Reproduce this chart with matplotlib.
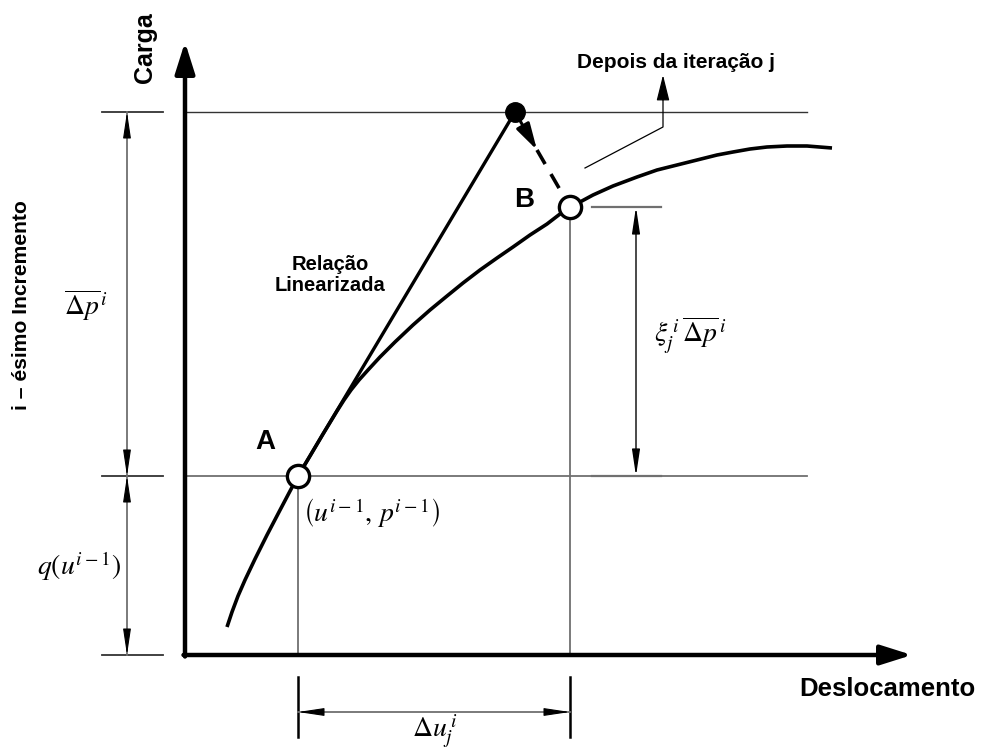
import matplotlib
matplotlib.use("Agg")
import matplotlib.pyplot as plt

plt.rcParams['font.family'] = ['Liberation Sans', 'DejaVu Sans']
plt.rcParams['mathtext.fontset'] = 'stix'

# ---- data (displacement, load) ----
curve_u = [42, 47, 53, 60, 70, 82, 94, 104, 113, 125, 138, 152, 159, 166, 174, 183, 195, 210,
           228, 245, 262, 278, 295, 312, 328, 345, 362, 375, 385, 395, 408, 428, 452, 472,
           492, 512, 532, 548, 565, 582, 602, 622, 647]
curve_p = [28, 43, 59, 75, 96, 120, 143, 162, 179, 199, 221, 244, 255, 265, 275, 285, 298, 313,
           330, 345, 359, 372, 385, 397, 408, 420, 431, 441, 448, 453, 460, 469, 478, 485,
           490, 495, 500, 503, 506, 508, 509, 509, 507]
point_A = (113, 179)          # (u^{i-1}, p^{i-1})
point_B = (385, 448)          # after iteration j
predictor = (330, 543)        # linearized prediction
load_top = 543                # p^{i-1} + Δp^i
u_axis_end = 727
p_axis_end = 613
ref_end = 622

fig = plt.figure(figsize=(9.82, 7.52), dpi=100)
ax = fig.add_axes([0, 0, 1, 1])
ax.set_xlim(-185, 797)
ax.set_ylim(-97, 655)
ax.axis('off')

gray = '#707070'

def arrow(tip, start, color='k', lw=1.0, hl=0.8, hw=0.2, ms=20):
    ax.annotate('', xy=tip, xytext=start,
                arrowprops=dict(arrowstyle=f'-|>,head_length={hl},head_width={hw}',
                                color=color, lw=lw, shrinkA=0, shrinkB=0,
                                mutation_scale=ms))

# axes
arrow((0, p_axis_end), (0, -1.5), lw=3.2, hl=0.95, hw=0.3)
arrow((u_axis_end, 0), (-1.5, 0), lw=3.2, hl=0.95, hw=0.3)

# reference lines
ax.plot([2, ref_end], [load_top, load_top], color='#333333', lw=1.0)
ax.plot([2, ref_end], [point_A[1], point_A[1]], color=gray, lw=1.3)
ax.plot([point_A[0], point_A[0]], [0, point_A[1]], color=gray, lw=1.3)
ax.plot([point_B[0], point_B[0]], [0, point_B[1]], color=gray, lw=1.3)

# left dimension
xd = -58
for yv in [load_top, point_A[1], 0]:
    ax.plot([-83, -22], [yv, yv], color='#333333', lw=1.3)
ax.plot([xd, xd], [0, load_top], color=gray, lw=1.3)
for tip, st in [((xd, load_top), (xd, load_top - 25)),
                ((xd, point_A[1]), (xd, point_A[1] + 25)),
                ((xd, point_A[1]), (xd, point_A[1] - 25)),
                ((xd, 0), (xd, 25))]:
    arrow(tip, st, lw=0.8, hl=0.8, hw=0.12)

# right dimension
xr = 451
for yv in [point_B[1], point_A[1]]:
    ax.plot([407, 476], [yv, yv], color=gray, lw=1.6)
ax.annotate('', xy=(xr, point_B[1]), xytext=(xr, point_A[1]),
            arrowprops=dict(arrowstyle='<|-|>,head_length=0.8,head_width=0.12',
                            color='k', lw=1.0, shrinkA=0, shrinkB=0, mutation_scale=20))

# bottom dimension
yb = -57
for xv in [point_A[0], point_B[0]]:
    ax.plot([xv, xv], [-22, -82], color='k', lw=1.8)
ax.plot([point_A[0], point_B[0]], [yb, yb], color=gray, lw=1.3)
arrow((point_A[0], yb), (point_A[0] + 25, yb), lw=0.8, hl=0.8, hw=0.12)
arrow((point_B[0], yb), (point_B[0] - 25, yb), lw=0.8, hl=0.8, hw=0.12)

# curve and linearized relation
ax.plot(curve_u, curve_p, color='k', lw=2.6, solid_capstyle='butt',
        solid_joinstyle='round', zorder=3)
ax.plot([point_A[0], predictor[0]], [point_A[1], predictor[1]], color='k', lw=2.4, zorder=3)

# corrector path (dashed with arrow)
fr = 0.4
mid = (predictor[0] + fr * (point_B[0] - predictor[0]), predictor[1] + fr * (point_B[1] - predictor[1]))
arrow(mid, predictor, lw=2.2, hl=0.8, hw=0.22)
ax.plot([mid[0], point_B[0]], [mid[1], point_B[1]], color='k', lw=2.6,
        dashes=(4.5, 3.2), zorder=3)

# points
ax.plot(*predictor, 'o', ms=14, color='k', zorder=5)
for pt in [point_A, point_B]:
    ax.plot(*pt, 'o', ms=16, mfc='white', mec='k', mew=2.4, zorder=5)

# leader
ax.plot([400, 478, 478], [487, 528, 560], color='k', lw=0.9)
arrow((478, 580), (478, 555), lw=0.9, hl=0.8, hw=0.2)

# texts
bold = dict(fontweight='bold', color='k', ha='center', va='center')
ax.text(-40, 607, 'Carga', fontsize=18, rotation=90, **bold)
ax.text(-164, 350, 'i – ésimo Incremento', fontsize=15.2, rotation=90, **bold)
ax.text(702, -34, 'Deslocamento', fontsize=18.5, **bold)
ax.text(491, 593, 'Depois da iteração j', fontsize=15, **bold)
ax.text(145, 380, 'Relação\nLinearizada', fontsize=14.5, linespacing=1.1, **bold)
ax.text(80, 213, 'A', fontsize=20, **bold)
ax.text(339, 455, 'B', fontsize=20, **bold)

m = dict(color='k', ha='center', va='center')
ax.text(-99, 350, r'$\overline{\Delta p}^{\,i}$', fontsize=20, **m)
ax.text(-106, 89, r'$q\left(u^{i-1}\right)$', fontsize=20, **m)
ax.text(186, 142, r'$\left(u^{i-1},\, p^{i-1}\right)$', fontsize=20, **m)
ax.text(505, 320, r'$\xi_j^{\,i}\,\overline{\Delta p}^{\,i}$', fontsize=20, **m)
ax.text(250, -76, r'$\Delta u_j^{\,i}$', fontsize=20, **m)

fig.savefig('out.png', dpi=100)
